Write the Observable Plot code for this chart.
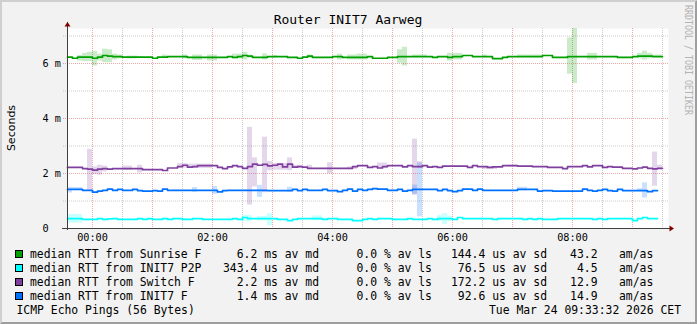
<!DOCTYPE html>
<html><head><meta charset="utf-8">
<script src="https://cdn.jsdelivr.net/npm/d3@7"></script>
<script src="https://cdn.jsdelivr.net/npm/@observablehq/plot@0.6"></script>
<style>
html,body{margin:0;padding:0;background:#fff;}
#wrap{position:relative;width:697px;height:324px;background:#f2f2f2;overflow:hidden;}
#wrap svg{position:absolute;left:0;top:0;}
</style></head><body><div id="wrap"></div>
<script>
// ---------- data ----------
const title = "Router INIT7 Aarweg";
const yLabel = "Seconds";
const watermark = "RRDTOOL / TOBI OETIKER";
const startMinute = -25;   // 23:35 relative to 00:00
const stepMinutes = 5;
const xDomain = [-25, 576];
const yDomain = [0, 7.2727];

const xTickMinutes = [0, 120, 240, 360, 480];
const xTickLabels = ["00:00", "02:00", "04:00", "06:00", "08:00"];
const xMajorGrid = [0, 60, 120, 180, 240, 300, 360, 420, 480, 540];
const xMinorGrid = [30, 90, 150, 210, 270, 330, 390, 450, 510, 570];
const yTickValues = [0, 2, 4, 6];
const yTickLabels = ["0", "2 m", "4 m", "6 m"];
const yMajorGrid = [2, 4, 6];
const yMinorGrid = [1, 3, 5, 7];

const seriesNames = ["median RTT from Sunrise F", "median RTT from INIT7 P2P", "median RTT from Switch F", "median RTT from INIT7 F"];
const seriesColors = ["#00a000", "#00ffff", "#7f3f9f", "#0070ff"];
const avgMedian = ["6.2 ms", "343.4 us", "2.2 ms", "1.4 ms"];
const avgLoss = ["0.0 %", "0.0 %", "0.0 %", "0.0 %"];
const avgSd = ["144.4 us", "76.5 us", "172.2 us", "92.6 us"];
const amas = ["43.2", "4.5", "12.9", "14.9"];
const footerLeft = "ICMP Echo Pings (56 Bytes)";
const footerRight = "Tue Mar 24 09:33:32 2026 CET";

// median RTT in ms, one value per 5-minute step from 23:35
const sunrise = [
  6.23,6.19,6.23,6.23,6.23,6.19,6.23,6.29,6.27,6.25,
  6.25,6.23,6.23,6.23,6.23,6.23,6.23,6.19,6.23,6.23,
  6.25,6.25,6.25,6.25,6.22,6.22,6.22,6.22,6.22,6.22,
  6.22,6.22,6.25,6.22,6.25,6.29,6.27,6.22,6.22,6.22,
  6.25,6.25,6.25,6.25,6.22,6.22,6.19,6.23,6.27,6.22,
  6.22,6.22,6.22,6.25,6.25,6.22,6.22,6.22,6.22,6.22,
  6.25,6.19,6.19,6.19,6.22,6.22,6.25,6.25,6.25,6.25,
  6.25,6.25,6.25,6.22,6.25,6.25,6.22,6.25,6.25,6.29,
  6.29,6.25,6.25,6.25,6.25,6.18,6.18,6.22,6.25,6.25,
  6.25,6.25,6.25,6.25,6.25,6.29,6.29,6.22,6.22,6.22,
  6.25,6.25,6.25,6.25,6.25,6.25,6.25,6.25,6.25,6.25,
  6.22,6.22,6.22,6.25,6.27,6.27,6.27,6.25,6.25
];
const init7P2P = [
  0.36,0.36,0.36,0.33,0.33,0.33,0.36,0.33,0.35,0.36,
  0.33,0.33,0.33,0.33,0.36,0.33,0.36,0.33,0.33,0.36,
  0.33,0.36,0.36,0.33,0.33,0.36,0.36,0.33,0.33,0.33,
  0.33,0.33,0.33,0.36,0.33,0.40,0.36,0.36,0.36,0.36,
  0.36,0.36,0.33,0.33,0.29,0.33,0.36,0.36,0.36,0.36,
  0.36,0.33,0.36,0.36,0.33,0.33,0.33,0.29,0.29,0.33,
  0.36,0.33,0.36,0.36,0.36,0.33,0.33,0.33,0.36,0.33,
  0.33,0.33,0.36,0.33,0.36,0.36,0.36,0.33,0.40,0.36,
  0.36,0.36,0.36,0.36,0.36,0.33,0.36,0.36,0.36,0.36,
  0.36,0.33,0.36,0.33,0.36,0.33,0.33,0.33,0.36,0.36,
  0.36,0.36,0.36,0.36,0.36,0.33,0.36,0.33,0.36,0.36,
  0.36,0.36,0.36,0.29,0.36,0.40,0.36,0.36
];
const switchF = [
  2.22,2.22,2.22,2.18,2.16,2.12,2.16,2.18,2.16,2.18,
  2.18,2.18,2.18,2.18,2.18,2.14,2.14,2.14,2.14,2.11,
  2.20,2.20,2.25,2.30,2.23,2.25,2.29,2.29,2.29,2.29,
  2.22,2.18,2.24,2.29,2.25,2.19,2.25,2.34,2.30,2.33,
  2.28,2.30,2.34,2.24,2.34,2.23,2.25,2.23,2.19,2.19,
  2.19,2.19,2.19,2.19,2.19,2.19,2.19,2.25,2.29,2.29,
  2.22,2.25,2.20,2.25,2.29,2.29,2.29,2.24,2.29,2.25,
  2.25,2.29,2.23,2.25,2.22,2.27,2.27,2.27,2.27,2.27,
  2.22,2.29,2.25,2.25,2.22,2.24,2.24,2.29,2.29,2.29,
  2.27,2.27,2.27,2.25,2.25,2.25,2.22,2.22,2.22,2.18,
  2.25,2.25,2.25,2.29,2.24,2.29,2.29,2.22,2.25,2.23,
  2.23,2.19,2.19,2.17,2.20,2.23,2.19,2.17,2.19
];
const init7F = [
  1.42,1.42,1.42,1.39,1.39,1.32,1.36,1.39,1.43,1.39,
  1.42,1.39,1.39,1.42,1.38,1.36,1.36,1.38,1.36,1.43,
  1.39,1.39,1.39,1.39,1.39,1.39,1.39,1.39,1.39,1.39,
  1.33,1.38,1.39,1.39,1.39,1.39,1.39,1.39,1.39,1.39,
  1.38,1.38,1.38,1.38,1.38,1.42,1.38,1.42,1.39,1.39,
  1.39,1.42,1.38,1.38,1.34,1.39,1.43,1.36,1.42,1.39,
  1.42,1.45,1.43,1.43,1.39,1.39,1.42,1.36,1.39,1.42,
  1.42,1.42,1.42,1.42,1.38,1.42,1.38,1.34,1.38,1.43,
  1.43,1.39,1.43,1.39,1.39,1.39,1.39,1.39,1.39,1.39,
  1.42,1.42,1.42,1.42,1.36,1.38,1.38,1.36,1.36,1.36,
  1.36,1.36,1.36,1.43,1.39,1.36,1.39,1.42,1.38,1.36,
  1.42,1.38,1.38,1.38,1.38,1.38,1.34,1.38
];

// smoke (ping spread) per step: [step, low ms, high ms]
const sunriseSmoke = [
  [2,6.09,6.29],[3,6.07,6.37],[4,6.07,6.41],[5,5.91,6.44],[6,6.09,6.34],[7,6.03,6.52],[8,6.03,6.50],
  [9,6.13,6.34],[10,6.17,6.31],[12,6.17,6.27],[13,6.17,6.27],[14,6.19,6.25],[19,6.22,6.31],[23,6.17,6.31],
  [25,6.11,6.31],[26,6.11,6.31],[28,6.09,6.31],[29,6.09,6.31],[33,6.17,6.34],[34,6.17,6.34],[35,6.13,6.41],
  [36,6.19,6.31],[39,6.13,6.35],[41,6.20,6.29],[48,6.19,6.31],[54,6.13,6.34],[56,6.13,6.31],[57,6.13,6.31],
  [58,6.13,6.34],[59,6.13,6.34],[66,6.01,6.50],[67,5.91,6.59],[69,6.22,6.31],[70,6.22,6.31],[71,6.22,6.31],
  [76,6.09,6.37],[77,6.13,6.37],[78,6.13,6.37],[83,6.22,6.31],[90,6.22,6.31],[91,6.22,6.31],[92,6.22,6.31],
  [93,6.22,6.31],[94,6.22,6.31],[100,5.61,6.93],[101,5.27,7.27],[104,6.13,6.37],[105,6.13,6.37],
  [114,6.17,6.37],[115,6.13,6.45],[116,6.17,6.37],[117,6.22,6.31],[118,6.22,6.31]
];
const init7P2PSmoke = [
  [0,0.20,0.51],[1,0.20,0.51],[2,0.20,0.51],[35,0.26,0.47],[36,0.26,0.47],[38,0.28,0.44],[39,0.28,0.44],
  [40,0.10,0.54],[49,0.29,0.46],[50,0.29,0.46],[74,0.26,0.47],[75,0.15,0.54],[76,0.26,0.45]
];
const switchFSmoke = [
  [4,1.38,2.88],[5,1.96,2.24],[6,1.94,2.30],[7,2.06,2.27],[11,2.12,2.27],[12,2.12,2.27],[14,2.02,2.30],
  [22,2.20,2.36],[23,2.20,2.36],[24,2.18,2.34],[25,2.18,2.34],[26,2.18,2.34],[27,2.18,2.34],[28,2.18,2.34],
  [36,0.85,3.68],[37,1.51,2.57],[39,1.30,3.32],[40,2.10,2.44],[41,2.12,2.36],[42,2.12,2.36],[43,2.12,2.36],
  [44,2.10,2.57],[45,2.20,2.30],[46,2.20,2.30],[48,2.15,2.30],[52,1.99,2.39],[56,2.14,2.24],[57,2.14,2.24],
  [62,2.17,2.38],[63,2.17,2.38],[69,1.21,3.25],[70,2.18,2.43],[83,2.14,2.25],[84,2.14,2.25],[85,2.14,2.25],
  [88,2.23,2.30],[89,2.23,2.30],[117,1.54,2.78],[118,2.15,2.30]
];
const init7FSmoke = [
  [0,1.29,1.50],[1,1.38,1.49],[2,1.38,1.49],[25,1.32,1.49],[29,1.24,1.53],[38,1.13,1.57],[44,1.32,1.50],
  [69,1.24,1.58],[70,0.42,2.38],[90,1.37,1.50],[91,1.37,1.50],[114,1.35,1.45],[115,1.11,1.66]
];

// ---------- build ----------
const MONO = "'DejaVu Sans Mono', monospace";
const medians = [sunrise, init7P2P, switchF, init7F];
const smokes = [sunriseSmoke, init7P2PSmoke, switchFSmoke, init7FSmoke];

function steps(vals) {
  const pts = vals.map((v, k) => ({t: startMinute + stepMinutes * k, v}));
  pts.push({t: startMinute + stepMinutes * vals.length, v: vals[vals.length - 1]});
  return pts;
}
function smokeRects(list) {
  return list.map(([k, lo, hi]) => ({t1: startMinute + stepMinutes * k, t2: startMinute + stepMinutes * (k + 1), lo, hi}));
}
const arrowUp = {draw(ctx) { ctx.moveTo(0, -2.5); ctx.lineTo(3, 2); ctx.lineTo(-3, 2); ctx.closePath(); }};
const arrowRight = {draw(ctx) { ctx.moveTo(2.5, 0); ctx.lineTo(-2, -3); ctx.lineTo(-2, 3); ctx.closePath(); }};

const gridMinor = {stroke: "#8f8f8f", strokeOpacity: 0.45, strokeDasharray: "1,1"};
const gridMajor = {stroke: "#e05050", strokeOpacity: 0.5, strokeDasharray: "1,1"};

const chart = Plot.plot({
  width: 697, height: 245,
  marginLeft: 67, marginRight: 29, marginTop: 28, marginBottom: 17,
  style: {background: "none", fontFamily: MONO, overflow: "visible"},
  x: {type: "linear", domain: xDomain, axis: null},
  y: {type: "linear", domain: yDomain, axis: null},
  marks: [
    Plot.frame({fill: "white", stroke: null}),
    Plot.ruleX(xMinorGrid, {...gridMinor, insetBottom: -2}),
    Plot.ruleY(yMinorGrid, {...gridMinor, insetLeft: -4}),
    Plot.ruleX(xMajorGrid, {...gridMajor, insetBottom: -2}),
    Plot.ruleY(yMajorGrid, {...gridMajor, insetLeft: -4}),
    ...smokes.map((s, i) => Plot.rect(smokeRects(s), {x1: "t1", x2: "t2", y1: "lo", y2: "hi", fill: seriesColors[i], fillOpacity: 0.21})),
    ...medians.map((m, i) => Plot.line(steps(m), {x: "t", y: "v", stroke: seriesColors[i], strokeWidth: 1.7, curve: "step-after"})),
    Plot.ruleY([0], {stroke: "#404040", insetLeft: -5, insetRight: -3}),
    Plot.ruleX([xDomain[0]], {stroke: "#404040", insetTop: -6, insetBottom: -2}),
    Plot.dot([[xDomain[0], yDomain[1]]], {dy: -4, symbol: arrowUp, fill: "#800000", stroke: "none", r: 3}),
    Plot.dot([[xDomain[1], 0]], {dx: 3, symbol: arrowRight, fill: "#800000", stroke: "none", r: 3}),
    Plot.text(xTickMinutes, {x: d => d, text: (d, i) => xTickLabels[i], frameAnchor: "bottom", dy: 12, lineAnchor: "bottom", fontFamily: MONO, fontSize: 10.2, fill: "black"}),
    Plot.text(yTickValues, {y: d => d, text: (d, i) => yTickLabels[i], frameAnchor: "left", dx: -25, textAnchor: "start", lineAnchor: "middle", fontFamily: MONO, fontSize: 10.2, fill: "black"})
  ]
});

const wrap = document.getElementById("wrap");
wrap.appendChild(chart);

// overlay: title, labels, legend, border
const ov = d3.create("svg").attr("width", 697).attr("height", 324)
  .style("font-family", MONO);
ov.append("text").attr("x", 348).attr("y", 24).attr("text-anchor", "middle")
  .attr("font-size", 13).text(title);
ov.append("text").attr("transform", "translate(15,128) rotate(-90)").attr("text-anchor", "middle")
  .attr("font-family", "'DejaVu Sans', sans-serif").attr("font-size", 11).text(yLabel);
ov.append("text").attr("transform", "translate(685,5) rotate(90)")
  .attr("font-size", 11).attr("textLength", 110).attr("lengthAdjust", "spacingAndGlyphs")
  .attr("fill", "#b4b4b4").text(watermark);

const fs = 11.4;
seriesNames.forEach((name, i) => {
  const y = 258 + 14 * i;
  ov.append("rect").attr("x", 15.5).attr("y", y - 7.5).attr("width", 7).attr("height", 7)
    .attr("fill", seriesColors[i]).attr("stroke", "black").attr("stroke-width", 1);
  const t = (x, anchor, s) => ov.append("text").attr("x", x).attr("y", y).attr("text-anchor", anchor)
    .attr("font-size", fs).style("white-space", "pre").text(s);
  t(30, "start", name);
  t(319, "end", avgMedian[i] + " av md");
  t(356.5, "start", avgLoss[i] + " av ls");
  t(547, "end", avgSd[i] + " av sd");
  t(597.5, "end", amas[i]);
  t(619, "start", "am/as");
});
ov.append("text").attr("x", 16.5).attr("y", 313.5).attr("font-size", fs).text(footerLeft);
ov.append("text").attr("x", 681).attr("y", 313.5).attr("text-anchor", "end").attr("font-size", fs).text(footerRight);

ov.append("path").attr("d", "M0,0H697L695,2H2V322L0,324Z").attr("fill", "#cfcfcf");
ov.append("path").attr("d", "M697,0V324H0L2,322H695V2Z").attr("fill", "#9e9e9e");

wrap.appendChild(ov.node());
</script></body></html>
